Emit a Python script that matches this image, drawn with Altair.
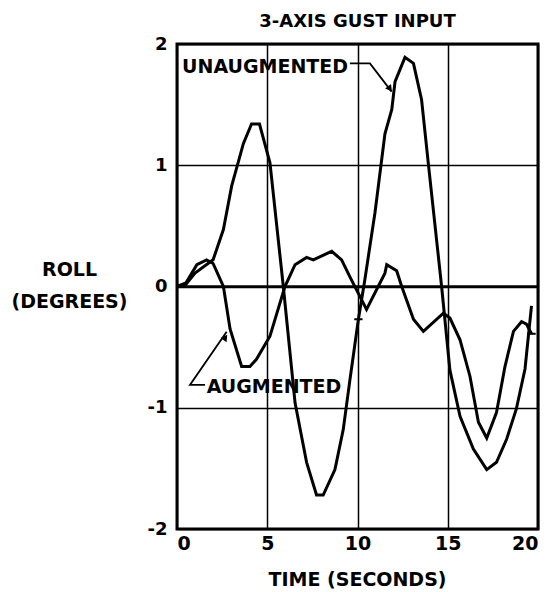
import altair as alt
import pandas as pd

# ---- data ----
t_unaug = [0, 0.5, 1.0, 2.0, 2.57, 3.03, 3.68, 4.13, 4.57, 5.15, 5.89, 6.54, 7.18, 7.73, 8.1,
           8.75, 9.21, 9.58, 10.05, 10.4, 10.97, 11.52, 11.9, 12.08, 12.63, 13.1, 13.55, 13.92,
           14.66, 15.12, 15.68, 16.42, 17.16, 17.7, 18.26, 18.8, 19.28, 19.64]
v_unaug = [0, 0.02, 0.11, 0.22, 0.47, 0.83, 1.18, 1.34, 1.34, 1.02, 0.0, -0.96, -1.45, -1.72, -1.72,
           -1.51, -1.18, -0.77, -0.27, 0.05, 0.61, 1.26, 1.46, 1.69, 1.89, 1.84, 1.54, 1.02,
           0.0, -0.69, -1.07, -1.34, -1.51, -1.45, -1.26, -1.01, -0.68, -0.16]

t_aug = [0, 0.5, 1.1, 1.64, 2.0, 2.57, 2.94, 3.58, 4.04, 4.4, 5.15, 5.98, 6.54, 7.18, 7.55, 8.57,
         9.12, 9.58, 10.5, 11.52, 11.62, 12.17, 12.45, 13.1, 13.65, 14.76, 15.12, 15.68, 16.23,
         16.7, 17.16, 17.7, 18.17, 18.64, 19.09, 19.36, 19.64]
v_aug = [0, 0.03, 0.18, 0.22, 0.19, 0.0, -0.35, -0.66, -0.66, -0.6, -0.41, 0.0, 0.18, 0.24, 0.22, 0.29,
         0.22, 0.08, -0.19, 0.11, 0.18, 0.13, 0.0, -0.27, -0.37, -0.22, -0.26, -0.44, -0.74,
         -1.12, -1.25, -1.04, -0.66, -0.37, -0.29, -0.31, -0.39]

x_ticks = [0, 5, 10, 15, 20]
y_ticks = [-2, -1, 0, 1, 2]

label_text = ["UNAUGMENTED", "AUGMENTED"]
label_t = [0.28, 1.645]
label_v = [1.763, -0.876]

leader_id = ["u", "u", "u", "a", "a", "a"]
leader_t = [9.58, 10.69, 11.89, 1.55, 0.72, 2.75]
leader_v = [1.84, 1.84, 1.607, -0.812, -0.812, -0.373]

arrow_t = [11.8, 2.68]
arrow_v = [1.63, -0.42]
arrow_angle = [143, 35]

marker_t = [10.05, 19.64]
marker_v = [-0.27, -0.39]

FONT = "DejaVu Sans"

curves = pd.concat([
    pd.DataFrame({"t": t_unaug, "v": v_unaug, "s": "unaug", "i": range(len(t_unaug))}),
    pd.DataFrame({"t": t_aug, "v": v_aug, "s": "aug", "i": range(len(t_aug))}),
])
leaders = pd.DataFrame({"t": leader_t, "v": leader_v, "g": leader_id, "i": range(len(leader_t))})
labels = pd.DataFrame({"t": label_t, "v": label_v, "txt": label_text})
arrows = pd.DataFrame({"t": arrow_t, "v": arrow_v, "a": arrow_angle})
markers = pd.DataFrame({"t": marker_t, "v": marker_v})
zero = pd.DataFrame({"v": [0]})

xs = alt.Scale(domain=[0, 20], nice=False)
ys = alt.Scale(domain=[-2, 2], nice=False)

x_axis = alt.Axis(values=x_ticks, title="TIME (SECONDS)", labelFontSize=19, labelPadding=5,
                  titleFontSize=19, titleBaseline="alphabetic", titleX=180, titleY=56,
                  format="d")
y_axis = alt.Axis(values=y_ticks, title=["ROLL", "(DEGREES)"], labelFontSize=18, labelPadding=10,
                  labelExpr="datum.value < 0 ? '-' + abs(datum.value) : '' + datum.value",
                  titleFontSize=19, titleAngle=0, titleAlign="center", titleBaseline="alphabetic",
                  titleX=-108, titleY=231, titleLineHeight=32)

base_x = alt.X("t:Q", scale=xs, axis=x_axis)
base_y = alt.Y("v:Q", scale=ys, axis=y_axis)

lines = alt.Chart(curves).mark_line(color="black", strokeWidth=3, strokeJoin="miter").encode(
    x=base_x, y=base_y, detail="s:N", order="i:Q")

zero_rule = alt.Chart(zero).mark_rule(color="black", strokeWidth=2.6).encode(y=alt.Y("v:Q", scale=ys))

lead = alt.Chart(leaders).mark_line(color="black", strokeWidth=1.8).encode(
    x=alt.X("t:Q", scale=xs), y=alt.Y("v:Q", scale=ys), detail="g:N", order="i:Q")

heads = alt.Chart(arrows).mark_point(shape="triangle-up", filled=True, color="black", size=55,
                                     opacity=1).encode(
    x=alt.X("t:Q", scale=xs), y=alt.Y("v:Q", scale=ys), angle=alt.Angle("a:Q", scale=None))

marks = alt.Chart(markers).mark_point(shape="M-1,0L1,0", filled=False, color="black", size=70,
                                      strokeWidth=2, opacity=1).encode(
    x=alt.X("t:Q", scale=xs), y=alt.Y("v:Q", scale=ys))

texts = alt.Chart(labels).mark_text(font=FONT, fontWeight="bold", fontSize=19, align="left",
                                    baseline="alphabetic", color="black").encode(
    x=alt.X("t:Q", scale=xs), y=alt.Y("v:Q", scale=ys), text="txt:N")

chart = alt.layer(zero_rule, lines, lead, heads, marks, texts).properties(
    width=361, height=485,
    autosize=alt.AutoSizeParams(type="none"),
    padding={"left": 169, "top": 36, "right": 14, "bottom": 62},
    title=alt.TitleParams("3-AXIS GUST INPUT", font=FONT, fontWeight="bold", fontSize=18,
                          anchor="middle", offset=4, color="black"),
).configure_view(stroke="black", strokeWidth=3).configure_axis(
    domain=False, ticks=False, grid=True, gridColor="black", gridWidth=1.5, gridOpacity=1,
    labelFont=FONT, titleFont=FONT, labelFontWeight="bold", titleFontWeight="bold",
    labelColor="black", titleColor="black",
)

chart.save("out.html", embed_options={"renderer": "svg", "actions": False})
